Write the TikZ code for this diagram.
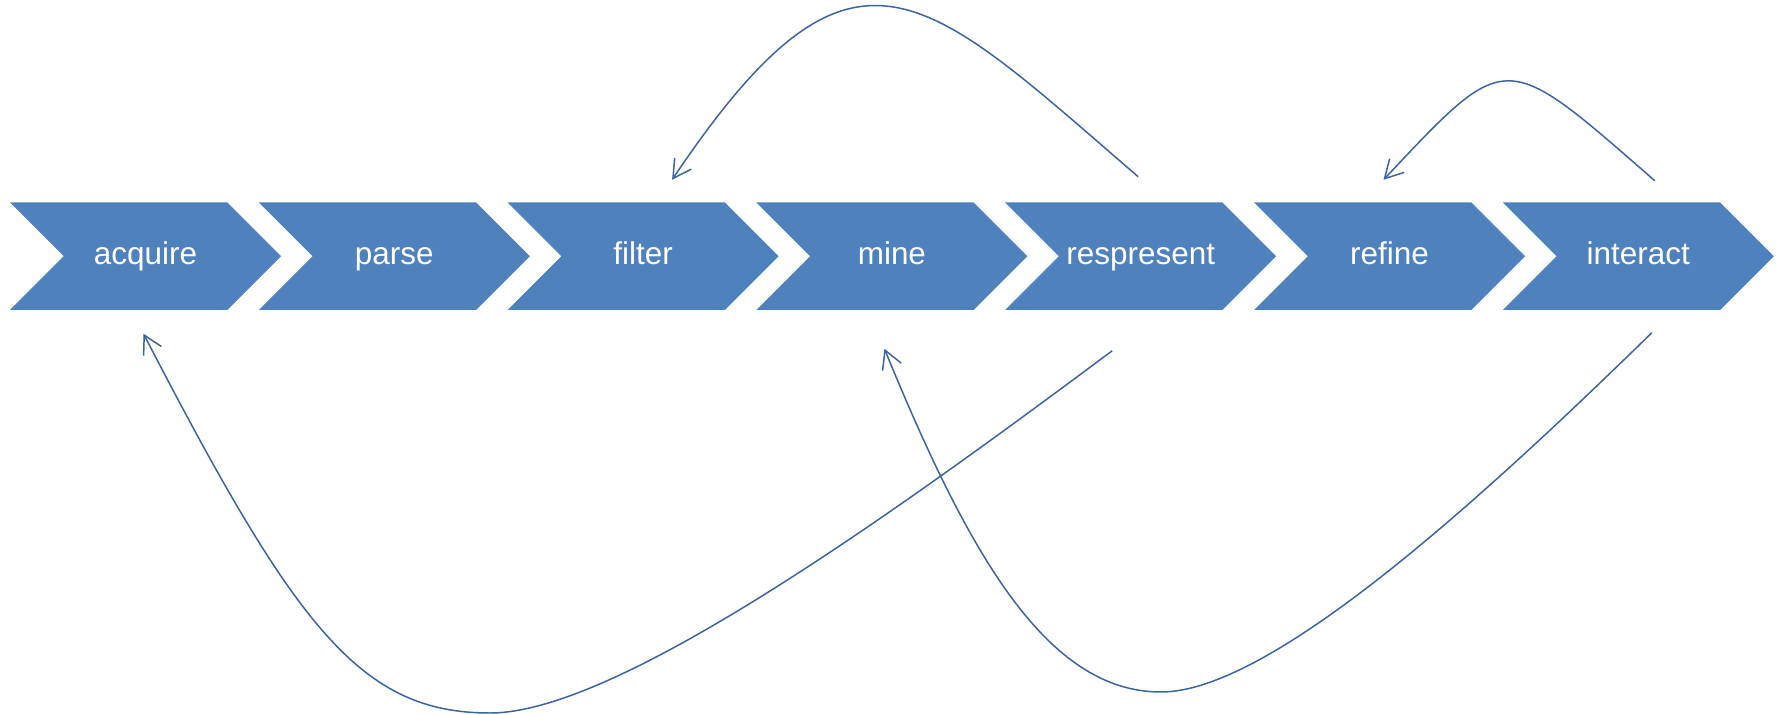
\documentclass[tikz,border=0pt]{standalone}
\usepackage{fontspec}
\setmainfont{Liberation Sans}
\usepackage{tikz}
\usetikzlibrary{calc, arrows.meta}

\definecolor{stepfill}{HTML}{4F81BD}
\definecolor{linkline}{HTML}{3B64A0}

\begin{document}
\begin{tikzpicture}[>={Straight Barb[length=3.6mm, width=4mm]},
    chevron/.style={fill=stepfill},
    steplabel/.style={text=white, font=\fontsize{17.9}{20}\selectfont,
        inner sep=0pt, text height=9.3pt, text depth=0pt},
    backlink/.style={->, draw=linkline, line width=0.85pt}]
    \useasboundingbox (0,0) rectangle (35.7,14.28);

    % Các bước xử lý
    \foreach \name [count=\i from 0] in {acquire,parse,filter,mine,respresent,refine,interact} {
        \fill[chevron, shift={({2.91+4.976*\i},9.155)}] (-2.71,1.075) -- ++(4.345,0)
            -- ++(1.075,-1.075) -- ++(-1.075,-1.075) -- ++(-4.345,0) -- ++(1.075,1.075) -- cycle;
        \node[steplabel] (\name) at ({2.91+4.976*\i},9.155) {\name};
    }

    % Điểm đầu, điểm cuối của các mũi tên
    \coordinate (rep-top) at ($(respresent)+(-0.05,1.59)$);
    \coordinate (fil-top) at ($(filter)+(0.58,1.53)$);
    \coordinate (int-top) at ($(interact)+(0.33,1.51)$);
    \coordinate (ref-top) at ($(refine)+(-0.12,1.53)$);
    \coordinate (rep-bot) at ($(respresent)+(-0.57,-1.89)$);
    \coordinate (acq-bot) at ($(acquire)+(-0.04,-1.55)$);
    \coordinate (int-bot) at ($(interact)+(0.27,-1.53)$);
    \coordinate (min-bot) at ($(mine)+(-0.15,-1.85)$);
    \coordinate (low-left) at (9.8,0.02);
    \coordinate (low-right) at (23.22,0.44);

    % Mũi tên quay lại
    \draw[backlink] (rep-top) .. controls +(-4.33,3.73) and +(3.63,5.40) .. (fil-top);
    \draw[backlink] (int-top) .. controls +(-3.04,2.65) and +(2.49,2.64) .. (ref-top);
    \draw[backlink] (rep-bot) .. controls +(-4.6,-3.43) and +(2.5,0) .. (low-left)
        .. controls +(-2.6,0) and +(3.04,-5.87) .. (acq-bot);
    \draw[backlink] (int-bot) .. controls +(-3.4,-3.32) and +(2.2,0) .. (low-right)
        .. controls +(-2.3,0) and +(1.67,-4.07) .. (min-bot);
\end{tikzpicture}
\end{document}
